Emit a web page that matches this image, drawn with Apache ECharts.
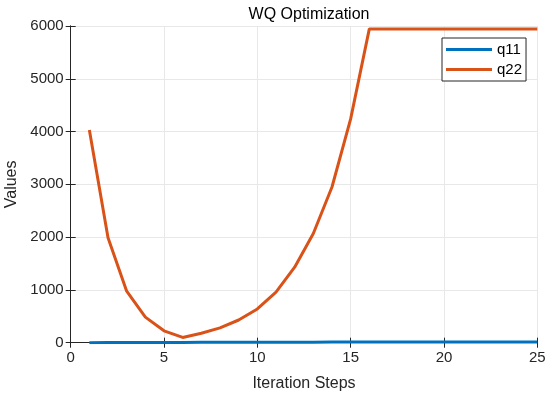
<!DOCTYPE html>
<html>
<head>
<meta charset="utf-8">
<script src="https://cdn.jsdelivr.net/npm/echarts@6/dist/echarts.min.js"></script>
<style>html,body{margin:0;padding:0;background:#fff;}#c{width:550px;height:399px;}</style>
</head>
<body>
<div id="c"></div>
<script>
var steps = [1,2,3,4,5,6,7,8,9,10,11,12,13,14,15,16,17,18,19,20,21,22,23,24,25];
var q11 = [1,2,3,4,5,6,7,8,8,9,9,10,10,11,11,12,12,12,13,13,13,14,14,14,15];
var q22 = [4030,1990,975,485,225,100,180,280,430,640,960,1430,2070,2950,4240,5945,5945,5945,5945,5945,5945,5945,5945,5945,5945];
var xTicks = [0,5,10,15,20,25];
var yTicks = [0,1000,2000,3000,4000,5000,6000];

function pairs(xs, ys){ return xs.map(function(x,i){ return [x, ys[i]]; }); }

var font = 'Liberation Sans, Arial, Helvetica, sans-serif';
var axisCol = '#262626';
var chart = echarts.init(document.getElementById('c'), null, {renderer:'canvas'});
var L = 70.7, R = 550-537.3, T = 26, B = 399-342.7;
chart.setOption({
  animation:false,
  backgroundColor:'#fff',
  title:{text:'WQ Optimization', left:304, textAlign:'center', top:2,
    textStyle:{fontFamily:font, fontSize:16, fontWeight:'normal', color:'#000'}},
  legend:{orient:'vertical', left:442, top:38, padding:[4,4,4,4], itemGap:5,
    itemWidth:46, itemHeight:3, borderColor:'#262626', borderWidth:1, backgroundColor:'#fff',
    icon:'rect',
    textStyle:{fontFamily:font, fontSize:15, color:'#000', padding:[0,0,0,0]},
    data:['q11','q22']},
  grid:{left:L, right:R, top:T, bottom:B, containLabel:false, outerBoundsMode:'none'},
  xAxis:[{type:'value', min:xTicks[0], max:xTicks[xTicks.length-1], interval:5,
    name:'Iteration Steps', nameLocation:'middle', nameGap:33,
    nameTextStyle:{fontFamily:font, fontSize:16, color:axisCol},
    axisLine:{show:true, onZero:false, lineStyle:{color:axisCol, width:1}},
    axisTick:{show:true, inside:true, length:5, lineStyle:{color:axisCol}},
    axisLabel:{fontFamily:font, fontSize:15, color:axisCol, margin:8, formatter:function(v){return String(v);}},
    splitLine:{show:true, lineStyle:{color:'#e8e8e8', width:1}}},
   {type:'value', position:'top', min:xTicks[0], max:xTicks[xTicks.length-1], interval:5,
    axisLine:{show:true, lineStyle:{color:axisCol, width:1}},
    axisTick:{show:true, inside:true, length:5, lineStyle:{color:axisCol}},
    axisLabel:{show:false}, splitLine:{show:false}}],
  yAxis:[{type:'value', min:yTicks[0], max:yTicks[yTicks.length-1], interval:1000,
    name:'Values', nameLocation:'middle', nameGap:47, nameRotate:90,
    nameTextStyle:{fontFamily:font, fontSize:16, color:axisCol},
    axisLine:{show:true, onZero:false, lineStyle:{color:axisCol, width:1}},
    axisTick:{show:true, inside:true, length:5, lineStyle:{color:axisCol}},
    axisLabel:{fontFamily:font, fontSize:15, color:axisCol, margin:7, formatter:function(v){return String(v);}},
    splitLine:{show:true, lineStyle:{color:'#e8e8e8', width:1}}},
   {type:'value', position:'right', min:yTicks[0], max:yTicks[yTicks.length-1], interval:1000,
    axisLine:{show:true, lineStyle:{color:axisCol, width:1}},
    axisTick:{show:true, inside:true, length:5, lineStyle:{color:axisCol}},
    axisLabel:{show:false}, splitLine:{show:false}}],
  series:[
    {name:'q11', type:'line', data:pairs(steps,q11), showSymbol:false, symbol:'none',
     lineStyle:{color:'#0072BD', width:3}, itemStyle:{color:'#0072BD'}, z:3},
    {name:'q22', type:'line', data:pairs(steps,q22), showSymbol:false, symbol:'none',
     lineStyle:{color:'#D95319', width:3}, itemStyle:{color:'#D95319'}, z:2}
  ]
});
</script>
</body>
</html>
